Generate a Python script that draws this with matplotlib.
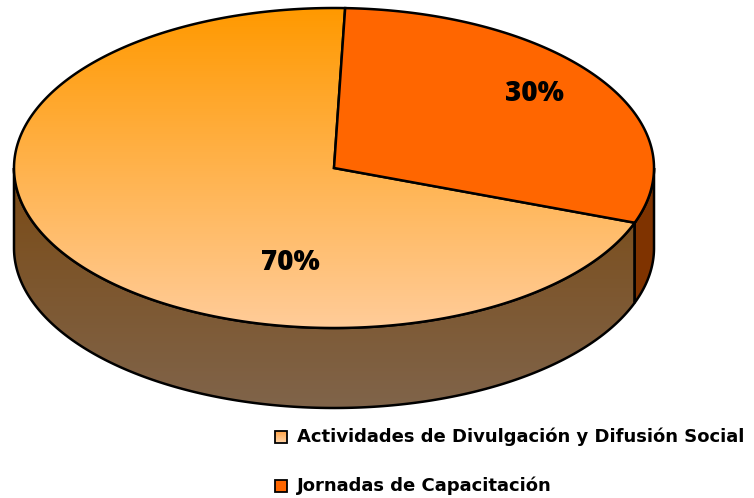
import numpy as np
import matplotlib
matplotlib.use("Agg")
import matplotlib.pyplot as plt
from matplotlib.patches import Polygon, Rectangle
from matplotlib.colors import LinearSegmentedColormap

# ---- data ----
categories = ["Actividades de Divulgación y Difusión Social", "Jornadas de Capacitación"]
values = [70, 30]
labels = ["70%", "30%"]

plt.rcParams['font.family'] = ['Open Sans', 'DejaVu Sans']

W, H = 754, 498
fig = plt.figure(figsize=(W / 100, H / 100), dpi=100)
ax = fig.add_axes([0, 0, 1, 1])
ax.set_xlim(0, W)
ax.set_ylim(H, 0)
ax.axis('off')

# geometry of the 3D pie (pixel units)
cx, cy, a, b, depth = 334, 168, 320, 160, 80
start = 88.0  # parametric angle where the small slice starts, going clockwise

def rim(t0, t1, n=200, dy=0):
    t = np.radians(np.linspace(t0, t1, n))
    return np.column_stack([cx + a * np.cos(t), cy - b * np.sin(t) + dy])

total = sum(values)
spans = {}
ang = start
for idx in [1, 0]:
    sweep = 360.0 * values[idx] / total
    spans[idx] = (ang - sweep, ang)
    ang -= sweep

top_cmap = LinearSegmentedColormap.from_list("top", ["#FF9900", "#FFCC99"])
side_cmap = LinearSegmentedColormap.from_list("side", ["#7A4A14", "#80644A"])
flat_top = {1: "#FF6600"}
flat_side = {1: "#7F3300"}

def grad_fill(poly, cmap, y0, y1):
    img = np.linspace(0, 1, 256).reshape(-1, 1)
    im = ax.imshow(img, cmap=cmap, extent=[0, W, y1, y0], aspect='auto',
                   origin='upper', zorder=poly.get_zorder() - 0.1)
    im.set_clip_path(poly)

# ---- side faces ----
for idx in [0, 1]:
    lo, hi = spans[idx]
    for k in (-360, 0, 360):
        l, h = lo + k, hi + k
        s0, s1 = max(l, 180), min(h, 360)
        if s1 > s0:
            pts = np.vstack([rim(s0, s1), rim(s1, s0, dy=depth)])
            if idx in flat_side:
                p = Polygon(pts, closed=True, facecolor=flat_side[idx],
                            edgecolor='black', lw=1.8, zorder=2)
                ax.add_patch(p)
            else:
                p = Polygon(pts, closed=True, facecolor='none',
                            edgecolor='black', lw=1.8, zorder=2)
                ax.add_patch(p)
                grad_fill(p, side_cmap, cy, cy + b + depth)

# ---- top faces ----
for idx in [0, 1]:
    lo, hi = spans[idx]
    pts = np.vstack([[cx, cy], rim(lo, hi, 300)])
    if idx in flat_top:
        p = Polygon(pts, closed=True, facecolor=flat_top[idx],
                    edgecolor='black', lw=1.8, zorder=4)
        ax.add_patch(p)
    else:
        p = Polygon(pts, closed=True, facecolor='none',
                    edgecolor='black', lw=1.8, zorder=4)
        ax.add_patch(p)
        grad_fill(p, top_cmap, cy - b, cy + b)

# ---- percentage labels ----
label_pos = {0: (290, 262), 1: (534, 93)}
for idx in [0, 1]:
    x, y = label_pos[idx]
    ax.text(x, y, labels[idx], ha='center', va='center', fontsize=20,
            fontweight='heavy', color='black', zorder=6)

# ---- legend ----
leg_y = [437, 486]
for i, cat in enumerate(categories):
    y = leg_y[i]
    r = Rectangle((275, y - 6.5), 12, 12, facecolor='none' if i == 0 else "#FF6600",
                  edgecolor='black', lw=1.3, zorder=6)
    ax.add_patch(r)
    if i == 0:
        img = np.linspace(0, 1, 64).reshape(-1, 1)
        im = ax.imshow(img, cmap=LinearSegmentedColormap.from_list("lg", ["#FFA040", "#FFD0A0"]),
                       extent=[275, 287, y + 5.5, y - 6.5], aspect='auto',
                       origin='upper', zorder=5.9)
        im.set_clip_path(r)
    ax.text(297, y, cat, ha='left', va='center', fontsize=13.0,
            fontweight='bold', color='black', zorder=6, family='DejaVu Sans')

ax.set_xlim(0, W)
ax.set_ylim(H, 0)
fig.savefig("out.png", dpi=100)
